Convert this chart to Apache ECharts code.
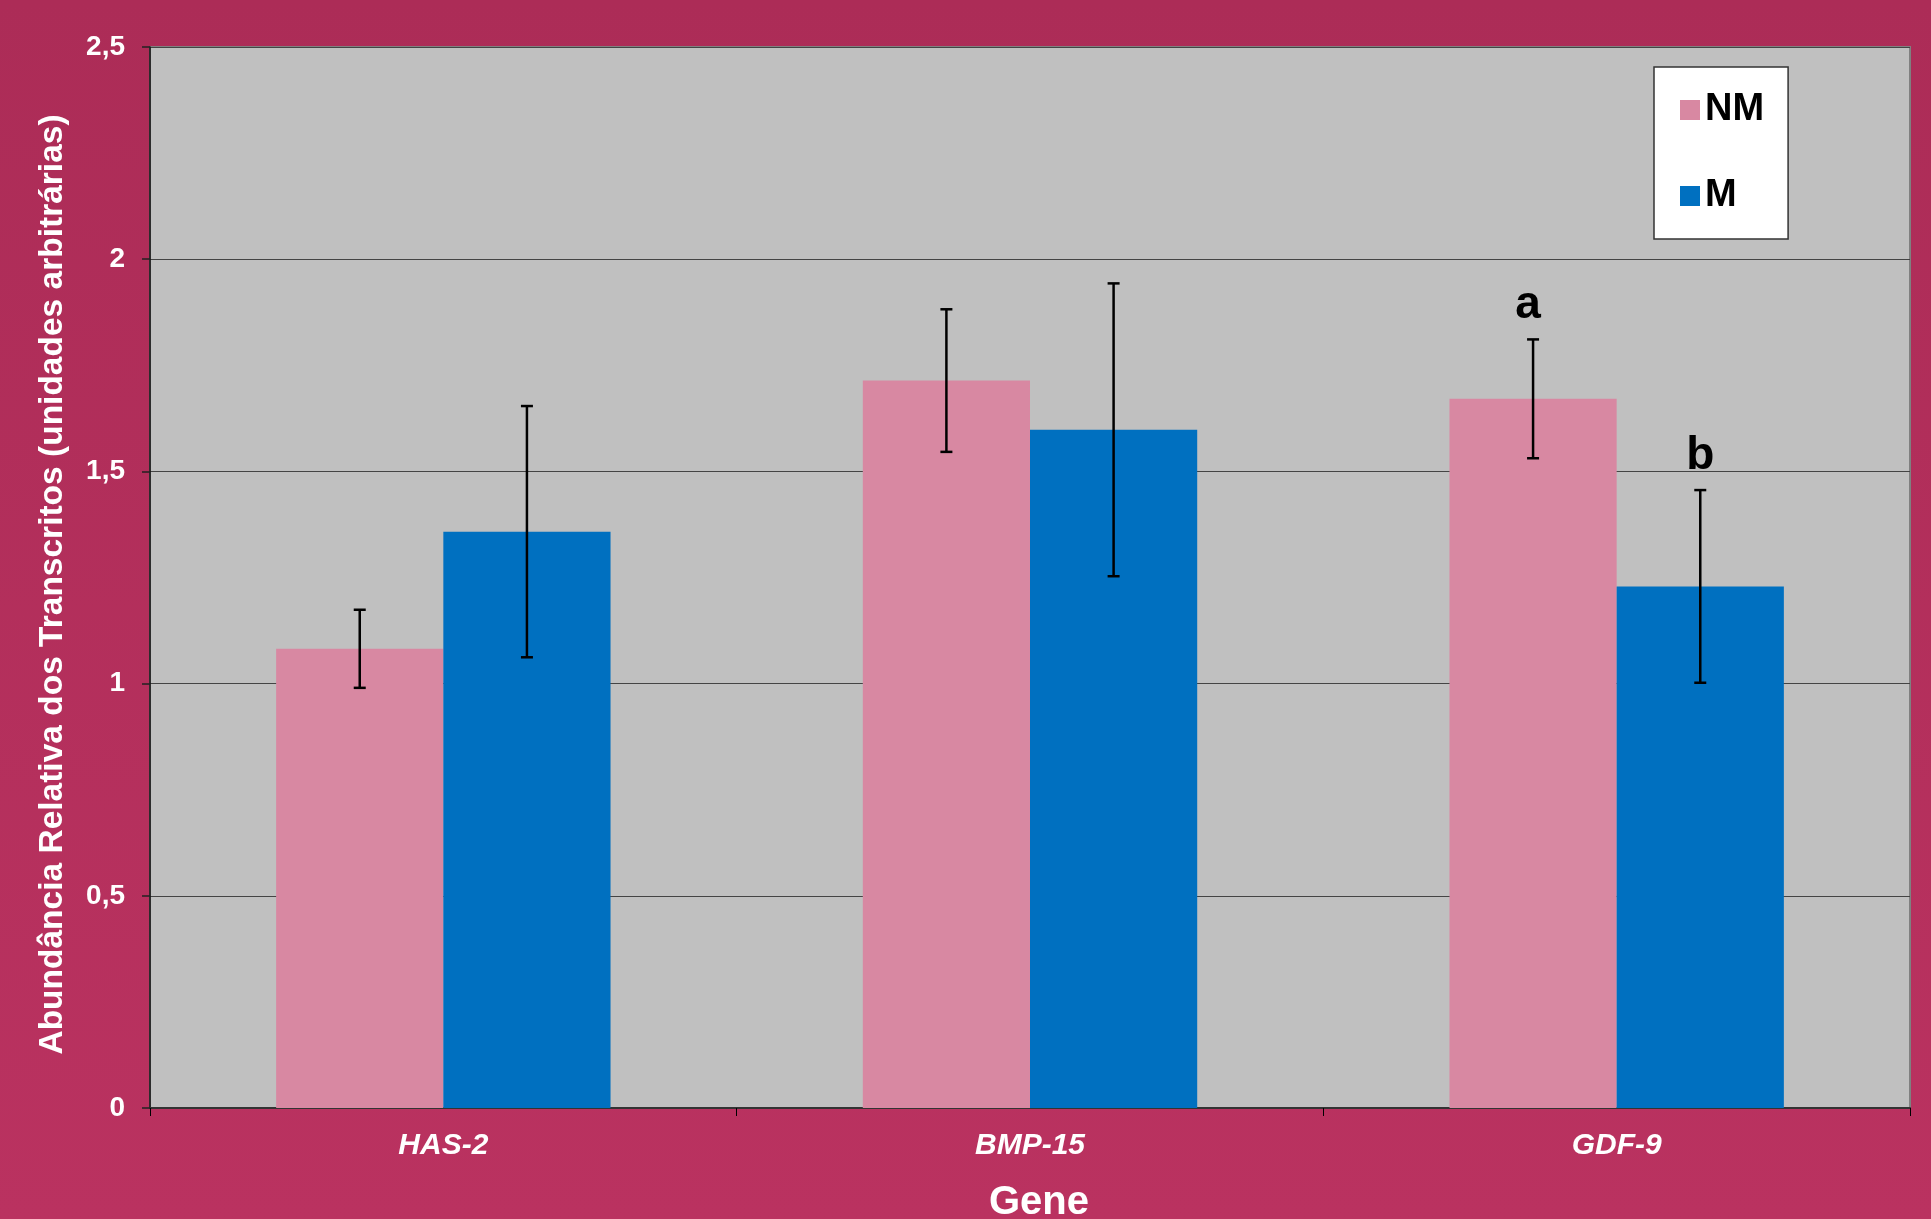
<!DOCTYPE html>
<html>
<head>
<meta charset="utf-8">
<script src="https://cdn.jsdelivr.net/npm/echarts@6/dist/echarts.min.js"></script>
<style>
html,body{margin:0;padding:0;background:#B2305B;}
#chart{width:1931px;height:1219px;}
</style>
</head>
<body>
<div id="chart"></div>
<script>
const categories = ['HAS-2', 'BMP-15', 'GDF-9'];
const seriesNames = ['NM', 'M'];
const nmValues = [1.082, 1.714, 1.671];
const mValues = [1.358, 1.598, 1.229];
const nmErrors = [0.092, 0.168, 0.140];
const mErrors = [0.296, 0.345, 0.227];
const nmLetters = ['', '', 'a'];
const mLetters = ['', '', 'b'];
const yMin = 0, yMax = 2.5, yStep = 0.5;

const FONT = '"Liberation Sans", Arial, sans-serif';
const CAT_GAP = 0.43;

function errData(vals, errs) {
  return vals.map((v, i) => [i, v - errs[i], v + errs[i]]);
}

function makeErr(sign, letters, letterShift) {
  return function (params, api) {
    const ci = api.value(0);
    const lo = api.value(1), hi = api.value(2);
    const band = api.size([1, 0])[0];
    const bw = band * (1 - CAT_GAP) / 2;
    const pLo = api.coord([ci, lo]);
    const pHi = api.coord([ci, hi]);
    const x = pLo[0] + sign * bw / 2;
    const cap = 6;
    const st = { stroke: '#000', lineWidth: 2.5 };
    const children = [
      { type: 'line', shape: { x1: x, y1: pLo[1], x2: x, y2: pHi[1] }, style: st },
      { type: 'line', shape: { x1: x - cap, y1: pLo[1], x2: x + cap, y2: pLo[1] }, style: st },
      { type: 'line', shape: { x1: x - cap, y1: pHi[1], x2: x + cap, y2: pHi[1] }, style: st }
    ];
    const letter = letters[params.dataIndex];
    if (letter) {
      children.push({
        type: 'text',
        style: {
          text: letter, x: x + letterShift, y: pHi[1] - 11,
          textAlign: 'center', textVerticalAlign: 'bottom',
          font: 'bold 46px ' + FONT, fill: '#000'
        }
      });
    }
    return { type: 'group', children: children };
  };
}

const chart = echarts.init(document.getElementById('chart'));
chart.setOption({
  animation: false,
  backgroundColor: new echarts.graphic.LinearGradient(0, 0, 0, 1, [
    { offset: 0, color: '#AC2C57' },
    { offset: 1, color: '#BA3260' }
  ]),
  textStyle: { fontFamily: FONT },
  grid: {
    left: 150, top: 47, right: 21, bottom: 111,
    outerBoundsMode: 'none',
    containLabel: false,
    show: true, backgroundColor: '#C0C0C0', borderColor: '#808080', borderWidth: 2
  },
  legend: {
    data: seriesNames,
    orient: 'vertical',
    left: 1654, top: 67,
    backgroundColor: '#fff',
    borderColor: '#333', borderWidth: 1.5,
    padding: [24, 24, 24, 26],
    itemWidth: 20, itemHeight: 20, itemGap: 48, itemTextGap: 17,
    icon: 'rect',
    textStyle: { fontFamily: FONT, fontWeight: 'bold', fontSize: 38, color: '#000' }
  },
  xAxis: {
    type: 'category',
    data: categories,
    name: 'Gene',
    nameLocation: 'middle',
    nameGap: 75,
    nameTextStyle: { color: '#fff', fontWeight: 'bold', fontSize: 40, fontFamily: FONT, padding: [0, 0, 0, 18] },
    axisLine: { lineStyle: { color: '#333', width: 2 } },
    axisTick: { show: true, length: 8, lineStyle: { color: '#000', width: 1 } },
    axisLabel: { color: '#fff', fontWeight: 'bold', fontStyle: 'italic', fontSize: 30, margin: 23, fontFamily: FONT }
  },
  yAxis: {
    type: 'value',
    min: yMin, max: yMax, interval: yStep,
    name: 'Abundância Relativa dos Transcritos (unidades arbitrárias)',
    nameLocation: 'middle',
    nameRotate: 90,
    nameGap: 80,
    nameTextStyle: { color: '#fff', fontWeight: 'bold', fontSize: 33.5, fontFamily: FONT, padding: [0, 14, 0, 0] },
    axisLine: { show: true, lineStyle: { color: '#111', width: 1.5 } },
    axisTick: { show: true, length: 8, lineStyle: { color: '#222', width: 1.5 } },
    axisLabel: {
      color: '#fff', fontWeight: 'bold', fontSize: 28, margin: 25, fontFamily: FONT,
      formatter: v => String(v).replace('.', ',')
    },
    splitLine: { show: true, lineStyle: { color: '#444', width: 1.2 } }
  },
  series: [
    { name: 'NM', type: 'bar', data: nmValues, barGap: '0%', barCategoryGap: (CAT_GAP * 100) + '%',
      itemStyle: { color: '#D888A2' } },
    { name: 'M', type: 'bar', data: mValues, barGap: '0%', barCategoryGap: (CAT_GAP * 100) + '%',
      itemStyle: { color: '#0070C0' } },
    { name: 'NM-err', type: 'custom', data: errData(nmValues, nmErrors), renderItem: makeErr(-1, nmLetters, -5),
      encode: { x: 0, y: [1, 2] }, z: 10 },
    { name: 'M-err', type: 'custom', data: errData(mValues, mErrors), renderItem: makeErr(1, mLetters, 0),
      encode: { x: 0, y: [1, 2] }, z: 10 }
  ]
});
</script>
</body>
</html>
